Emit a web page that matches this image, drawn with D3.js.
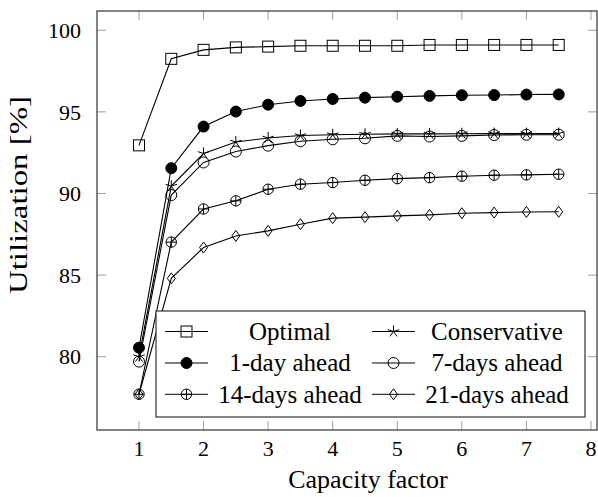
<!DOCTYPE html>
<html>
<head>
<meta charset="utf-8">
<script src="https://cdn.jsdelivr.net/npm/d3@7"></script>
<style>
  html, body { margin: 0; padding: 0; background: #fff; }
  svg { display: block; }
</style>
</head>
<body>
<svg id="chart" width="598" height="497"></svg>
<script>
// ---- Data ----
const capacityFactors = [1, 1.5, 2, 2.5, 3, 3.5, 4, 4.5, 5, 5.5, 6, 6.5, 7, 7.5];
const optimal      = [92.95, 98.25, 98.8, 98.95, 99.0, 99.05, 99.05, 99.05, 99.05, 99.1, 99.1, 99.1, 99.1, 99.1];
const conservative = [80.0, 90.45, 92.45, 93.15, 93.4, 93.55, 93.6, 93.63, 93.65, 93.65, 93.66, 93.67, 93.67, 93.67];
const oneDay       = [80.55, 91.55, 94.1, 95.02, 95.44, 95.67, 95.79, 95.87, 95.93, 95.98, 96.02, 96.03, 96.06, 96.07];
const sevenDays    = [79.7, 89.9, 91.9, 92.57, 92.93, 93.2, 93.32, 93.38, 93.53, 93.49, 93.53, 93.58, 93.6, 93.6];
const fourteenDays = [77.7, 87.02, 89.05, 89.55, 90.26, 90.57, 90.67, 90.81, 90.91, 90.97, 91.06, 91.12, 91.14, 91.18];
const twentyOneDays= [77.7, 84.8, 86.69, 87.4, 87.71, 88.12, 88.49, 88.55, 88.63, 88.69, 88.79, 88.83, 88.87, 88.88];
const xTicks = [1, 2, 3, 4, 5, 6, 7, 8];
const yTicks = [80, 85, 90, 95, 100];
const seriesNames = ["Optimal", "Conservative", "1-day ahead", "7-days ahead", "14-days ahead", "21-days ahead"];
const seriesValues = [optimal, conservative, oneDay, sevenDays, fourteenDays, twentyOneDays];
const seriesMarkers = ["square", "star", "dot", "circle", "oplus", "diamond"];
const xLabel = "Capacity factor";
const yLabel = "Utilization [%]";

// ---- Layout ----
const FONT = "Liberation Serif";
const L = 97, R = 597, T = 11, B = 430;
const svg = d3.select("#chart");
const x = d3.scaleLinear().domain([0.3496, 8.093]).range([L, R]);
const y = d3.scaleLinear().domain([75.51, 101.18]).range([B, T]);

// text helper: positioned through a transform; anchor handled manually (0 start, 0.5 middle, 1 end)
function txt(g, str, size, px, py, anchor, dyEm, rot) {
  const t = g.append("text")
    .attr("font-family", FONT)
    .attr("font-size", size)
    .attr("fill", "#000")
    .attr("transform", `translate(${px},${py + (dyEm || 0) * size}) rotate(${rot || 0.001})`)
    .attr("x", 0).attr("y", 0)
    .text(str);
  const w = t.node().getComputedTextLength();
  t.attr("x", -anchor * w)
   .attr("textLength", w).attr("lengthAdjust", "spacingAndGlyphs");
  return t;
}

svg.append("defs").append("clipPath").attr("id", "clip")
  .append("rect").attr("x", L).attr("y", T).attr("width", R - L).attr("height", B - T);

// ticks (inward, all four sides)
const tickLen = 9;
const tickColor = "#a0a0a0";
const ax = svg.append("g");
xTicks.forEach(t => {
  ax.append("line").attr("x1", x(t)).attr("x2", x(t)).attr("y1", B).attr("y2", B - tickLen).attr("stroke", tickColor);
  ax.append("line").attr("x1", x(t)).attr("x2", x(t)).attr("y1", T).attr("y2", T + tickLen).attr("stroke", tickColor);
});
yTicks.forEach(t => {
  ax.append("line").attr("x1", L).attr("x2", L + tickLen).attr("y1", y(t)).attr("y2", y(t)).attr("stroke", tickColor);
  ax.append("line").attr("x1", R).attr("x2", R - tickLen).attr("y1", y(t)).attr("y2", y(t)).attr("stroke", tickColor);
});

// tick labels
xTicks.forEach(t => txt(svg, String(t), 22, x(t), 456, 0.5));
yTicks.forEach(t => txt(svg, String(t), 22, 81, y(t), 1, 0.35));

// axis labels
txt(svg, xLabel, 26, (x(1) + x(8)) / 2 + 3, 488, 0.5);
svg.append("text")
  .attr("font-family", FONT).attr("font-size", 25).attr("fill", "#000")
  .attr("transform", "translate(27,195) rotate(-90)")
  .attr("x", -99).attr("y", 0)
  .attr("textLength", 198).attr("lengthAdjust", "spacingAndGlyphs")
  .text(yLabel);

// marker drawing
function drawMarker(g, type, cx, cy) {
  const s = g.append("g").attr("transform", `translate(${cx},${cy})`);
  if (type === "square") {
    s.append("rect").attr("x", -5.5).attr("y", -5.5).attr("width", 11).attr("height", 11)
      .attr("fill", "none").attr("stroke", "#000");
  } else if (type === "dot") {
    s.append("circle").attr("r", 5.5).attr("fill", "#000").attr("stroke", "#000");
  } else if (type === "circle") {
    s.append("circle").attr("r", 5.5).attr("fill", "none").attr("stroke", "#000");
  } else if (type === "oplus") {
    s.append("circle").attr("r", 5.2).attr("fill", "none").attr("stroke", "#000");
    s.append("line").attr("x1", -5.2).attr("x2", 5.2).attr("stroke", "#000");
    s.append("line").attr("y1", -5.2).attr("y2", 5.2).attr("stroke", "#000");
  } else if (type === "diamond") {
    s.append("path").attr("d", "M0,-5.5L4,0L0,5.5L-4,0Z").attr("fill", "none").attr("stroke", "#000");
  } else if (type === "star") {
    const r = 6;
    for (let k = 0; k < 5; k++) {
      const a = -Math.PI / 2 + k * 2 * Math.PI / 5;
      s.append("line").attr("x1", 0).attr("y1", 0).attr("x2", r * Math.cos(a)).attr("y2", r * Math.sin(a))
        .attr("stroke", "#000");
    }
  }
}

// series
const line = d3.line().x(d => x(d[0])).y(d => y(d[1]));
const plot = svg.append("g").attr("clip-path", "url(#clip)");
seriesValues.forEach((vals, i) => {
  const pts = capacityFactors.map((c, j) => [c, vals[j]]);
  plot.append("path").datum(pts).attr("d", line).attr("fill", "none").attr("stroke", "#000").attr("stroke-width", 1.1);
  pts.forEach(p => drawMarker(plot, seriesMarkers[i], x(p[0]), y(p[1])));
});

// frame
svg.append("rect").attr("x", L).attr("y", T).attr("width", R - L).attr("height", B - T)
  .attr("fill", "none").attr("stroke", "#333").attr("stroke-width", 1.2);

// legend
const lg = svg.append("g");
const lgX = 156, lgY = 311, lgW = 429, lgH = 106;
lg.append("rect").attr("x", lgX).attr("y", lgY).attr("width", lgW).attr("height", lgH)
  .attr("fill", "#fff").attr("stroke", "#333").attr("stroke-width", 1.2);
const rowY = [331.5, 363, 394.3];
const colSample = [[165, 208], [372, 415]];
const colText = [290, 497];
seriesNames.forEach((name, i) => {
  const col = i % 2, row = Math.floor(i / 2);
  const [a, b] = colSample[col];
  lg.append("line").attr("x1", a).attr("x2", b).attr("y1", rowY[row]).attr("y2", rowY[row]).attr("stroke", "#000");
  drawMarker(lg, seriesMarkers[i], (a + b) / 2, rowY[row]);
  txt(lg, name, 25, colText[col], rowY[row], 0.5, 0.33);
});
</script>
</body>
</html>
